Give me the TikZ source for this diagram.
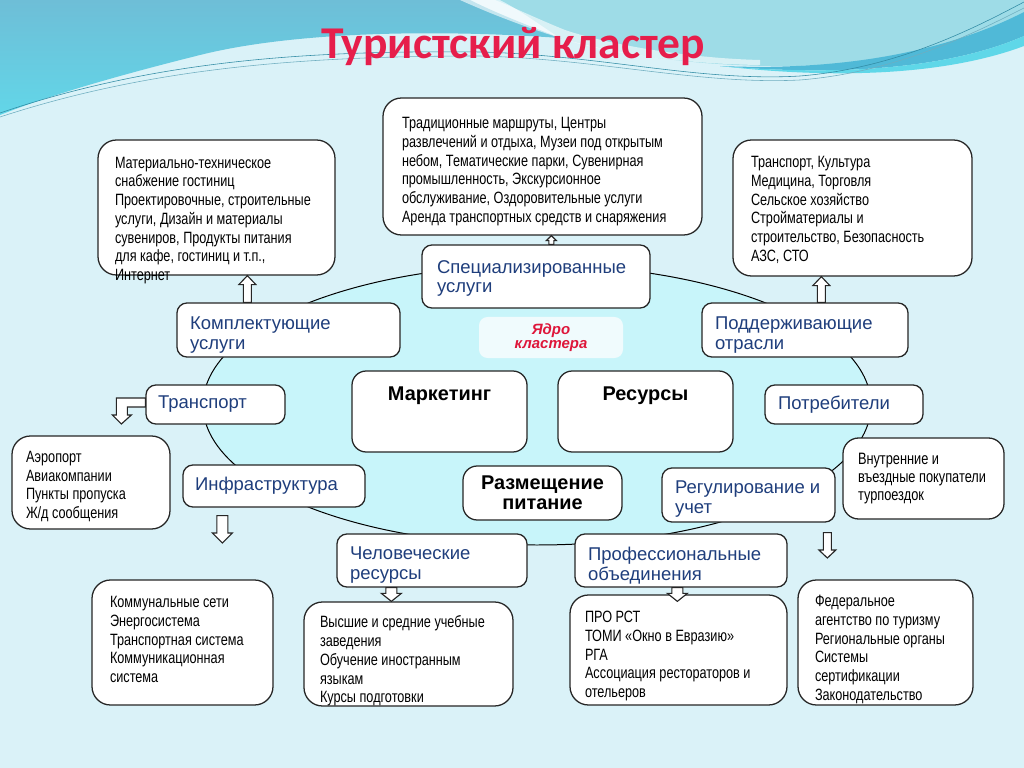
\documentclass[tikz,border=0pt]{standalone}
\usepackage{fontspec}
\setmainfont{Liberation Sans}
\newfontfamily\nar[FakeStretch=0.775]{Liberation Sans}
\newfontfamily\ttl{Carlito}
\usetikzlibrary{calc}
\newlength\px \setlength\px{0.703125pt}
\definecolor{bgc}{RGB}{218,242,248}
\definecolor{ellc}{RGB}{200,245,250}
\definecolor{navyc}{RGB}{31,62,124}
\definecolor{titlered}{RGB}{230,30,75}
\definecolor{corered}{RGB}{222,22,58}
\definecolor{topblue}{RGB}{110,190,215}
\definecolor{topcyan}{RGB}{98,214,232}
\definecolor{lteal}{RGB}{158,220,231}
\definecolor{bandblue}{RGB}{80,185,215}
\definecolor{bandcyan}{RGB}{95,215,232}
\definecolor{linec}{RGB}{50,140,165}
\definecolor{coref}{RGB}{240,251,253}
% left-aligned box: style, name, x1, y1, x2, y2, pad, dy, text
\newcommand\bx[9]{%
 \pgfmathsetmacro\tw{(#5-#3-2*(#7))*0.703125}%
 \pgfmathsetmacro\bw{(#5-#3)*0.703125}%
 \pgfmathsetmacro\bh{(#6-#4)*0.703125}%
 \pgfmathsetmacro\pd{(#7)*0.703125}%
 \node[#1, inner xsep=\pd pt, inner ysep=0pt, minimum width=\bw pt, minimum height=\bh pt] (#2) at ({(#3+#5)/2},{(#4+#6)/2}) {\raisebox{-#8\px}[\height][\depth]{\parbox{\tw pt}{\raggedright #9}}};}
% centred box
\newcommand\cbx[9]{%
 \pgfmathsetmacro\tw{(#5-#3-2*(#7))*0.703125}%
 \pgfmathsetmacro\bw{(#5-#3)*0.703125}%
 \pgfmathsetmacro\bh{(#6-#4)*0.703125}%
 \pgfmathsetmacro\pd{(#7)*0.703125}%
 \node[#1, inner xsep=\pd pt, inner ysep=0pt, minimum width=\bw pt, minimum height=\bh pt] (#2) at ({(#3+#5)/2},{(#4+#6)/2}) {\raisebox{-#8\px}[\height][\depth]{\parbox{\tw pt}{\centering #9}}};}
% vertical block arrow: shaft half width, head half width, head length, start, end
\newcommand\barrowv[5]{%
 \draw[barrow] let \p1=(#4), \p2=(#5), \n1={ifthenelse(\y2>\y1,1,-1)} in
  (\x1-#1*\px,\y1) -- (\x1-#1*\px,\y2-\n1*#3*\px) -- (\x1-#2*\px,\y2-\n1*#3*\px) -- (\x1,\y2)
  -- (\x1+#2*\px,\y2-\n1*#3*\px) -- (\x1+#1*\px,\y2-\n1*#3*\px) -- (\x1+#1*\px,\y1) -- cycle;}
\tikzset{
 bigbox/.style={draw=black!85, line width=0.9pt, fill=white, rounded corners=13pt,
   font=\nar\fontsize{11.5}{13.2}\selectfont},
 smallbox/.style={bigbox, rounded corners=11pt, font=\nar\fontsize{11.6}{12.9}\selectfont},
 lbl/.style={draw=black!85, line width=0.9pt, fill=white, rounded corners=7pt, text=navyc,
   font=\fontsize{13}{14}\selectfont},
 mainbox/.style={draw=black!85, line width=0.9pt, fill=white, rounded corners=10pt,
   font=\bfseries\fontsize{14}{14.3}\selectfont},
 corebox/.style={draw=none, fill=coref, rounded corners=6pt, text=corered,
   font=\bfseries\itshape\fontsize{10.5}{10}\selectfont},
 barrow/.style={draw=black!85, fill=white, line width=0.8pt, line join=miter},
 ellip/.style={draw=black, line width=0.7pt, fill=ellc}
}
\begin{document}
\begin{tikzpicture}[x=0.703125pt, y=-0.703125pt]
\useasboundingbox (0,0) rectangle (1024,768);
% background
\fill[bgc] (0,0) rectangle (1024,768);
\shade[top color=topblue, bottom color=topcyan]
  (0,0) -- (470,0) .. controls (500,15) and (535,28) .. (560,38)
  .. controls (450,30) and (300,30) .. (200,55) .. controls (120,75) and (50,95) .. (0,115) -- cycle;
\fill[lteal] (500,0) -- (1024,0) -- (1024,18) .. controls (960,50) and (880,66) .. (780,66)
  .. controls (680,66) and (600,50) .. (560,38) .. controls (540,25) and (520,10) .. (500,0) -- cycle;
\fill[white, opacity=0.6] (460,0) .. controls (500,18) and (535,30) .. (560,38)
  .. controls (600,52) and (680,64) .. (760,65) -- (760,60) .. controls (680,58) and (600,42) .. (565,30)
  .. controls (540,20) and (515,8) .. (495,0) -- cycle;
\fill[bandblue] (720,66) .. controls (860,72) and (960,45) .. (1024,12) -- (1024,36)
  .. controls (960,64) and (860,78) .. (720,66) -- cycle;
\fill[bandcyan] (720,66) .. controls (860,78) and (960,64) .. (1024,36) -- (1024,46)
  .. controls (960,70) and (860,82) .. (720,66) -- cycle;
\draw[linec, line width=0.4pt] (0,113) .. controls (150,62) and (300,50) .. (480,52)
  .. controls (600,55) and (700,82) .. (800,76) .. controls (900,68) and (980,25) .. (1024,2);
\draw[linec!70, line width=0.4pt] (0,117) .. controls (150,68) and (300,56) .. (480,56)
  .. controls (600,59) and (700,85) .. (800,80) .. controls (900,72) and (980,30) .. (1024,8);
% title
\node[font=\ttl\bfseries\fontsize{32}{36}\selectfont, text=titlered, anchor=base] (title) at (513,59) {Туристский кластер};
% cluster ellipse
\draw[ellip] (537,405) ellipse [x radius=334, y radius=140];
% boxes
\bx{bigbox}{mat}{98}{140}{335}{275}{17}{13}{Материально-техническое\\снабжение гостиниц\\Проектировочные, строительные\\услуги, Дизайн и материалы\\сувениров, Продукты питания\\для кафе, гостиниц и т.п.,\\Интернет}
\bx{bigbox}{trad}{383}{98}{702}{235}{19}{5}{Традиционные маршруты, Центры\\развлечений и отдыха, Музеи под открытым\\небом, Тематические парки, Сувенирная\\промышленность, Экскурсионное\\обслуживание, Оздоровительные услуги\\Аренда транспортных средств и снаряжения}
\bx{bigbox}{supp}{733}{140}{972}{276}{18}{2}{Транспорт, Культура\\Медицина, Торговля\\Сельское хозяйство\\Стройматериалы и\\строительство, Безопасность\\АЗС, СТО}
\bx{lbl}{spec}{422}{245}{650}{308}{15}{2}{Специализированные\\услуги}
\cbx{corebox}{core}{479}{317}{623}{358}{4}{0}{Ядро\\кластера}
\bx{lbl}{komp}{177}{303}{400}{357}{13}{5}{Комплектующие\\услуги}
\bx{lbl}{podd}{702}{303}{908}{357}{13}{5}{Поддерживающие\\отрасли}
\bx{lbl}{trans}{146}{385}{285}{424}{12}{0}{Транспорт}
\bx{bigbox}{aero}{12}{436}{170}{529}{14}{4}{Аэропорт\\Авиакомпании\\Пункты пропуска\\Ж/д сообщения}
\bx{lbl}{infra}{183}{465}{365}{507}{12}{0}{Инфраструктура}
\cbx{mainbox}{mark}{352}{371}{527}{452}{8}{-16}{Маркетинг}
\cbx{mainbox}{res}{558}{371}{733}{452}{8}{-16}{Ресурсы}
\cbx{mainbox}{razm}{463}{466}{622}{520}{6}{0}{Размещение\\питание}
\bx{lbl}{potr}{765}{385}{923}{424}{13}{0}{Потребители}
\bx{smallbox}{vnutr}{843}{438}{1004}{519}{15}{0}{Внутренние и\\въездные покупатели\\турпоездок}
\bx{lbl}{reg}{662}{468}{835}{522}{13}{4}{Регулирование и\\учет}
\bx{lbl}{chel}{337}{534}{527}{587}{13}{5}{Человеческие\\ресурсы}
\bx{bigbox}{komm}{92}{580}{273}{705}{18}{-3}{Коммунальные сети\\Энергосистема\\Транспортная система\\Коммуникационная\\система}
\bx{bigbox}{vyssh}{304}{602}{513}{706}{16}{7}{Высшие и средние учебные\\заведения\\Обучение иностранным\\языкам\\Курсы подготовки}
\bx{lbl}{prof}{575}{534}{787}{587}{13}{5}{Профессиональные\\объединения}
\bx{bigbox}{pro}{570}{595}{787}{705}{15}{6}{ПРО РСТ\\ТОМИ «Окно в Евразию»\\РГА\\Ассоциация рестораторов и\\отельеров}
\bx{bigbox}{fed}{798}{580}{973}{705}{17}{7}{Федеральное\\агентство по туризму\\Региональные органы\\Системы\\сертификации\\Законодательство}
% free arrow ends
\coordinate (infraA) at (223,543);
\coordinate (regA) at (828,558);
% block arrows
\barrowv{4}{8.5}{9}{$(komp.north west)+(71,0)$}{mat.south}
\barrowv{4}{8.5}{9}{$(podd.north west)+(120,0)$}{supp.south}
\barrowv{2.5}{5}{5}{$(spec.north west)+(130,0)$}{trad.south}
\barrowv{5.5}{10}{10}{$(infra.south west)+(40,8)$}{infraA}
\barrowv{4}{8.5}{8}{$(reg.south west)+(166,10)$}{regA}
\barrowv{5.5}{10}{8}{$(chel.south west)+(55,0)$}{vyssh.north}
\barrowv{5.5}{10}{8}{$(prof.south west)+(103,0)$}{$(pro.north)+(0,7)$}
\draw[barrow] ($(trans.west)+(0,-6.5)$) -- ++(-29,0) -- ++(0,17) -- ++(-4,0) -- ++(9,9)
  -- ++(10,-9) -- ++(-4,0) -- ++(0,-8) -- ++(18,0) -- cycle;
\end{tikzpicture}
\end{document}
